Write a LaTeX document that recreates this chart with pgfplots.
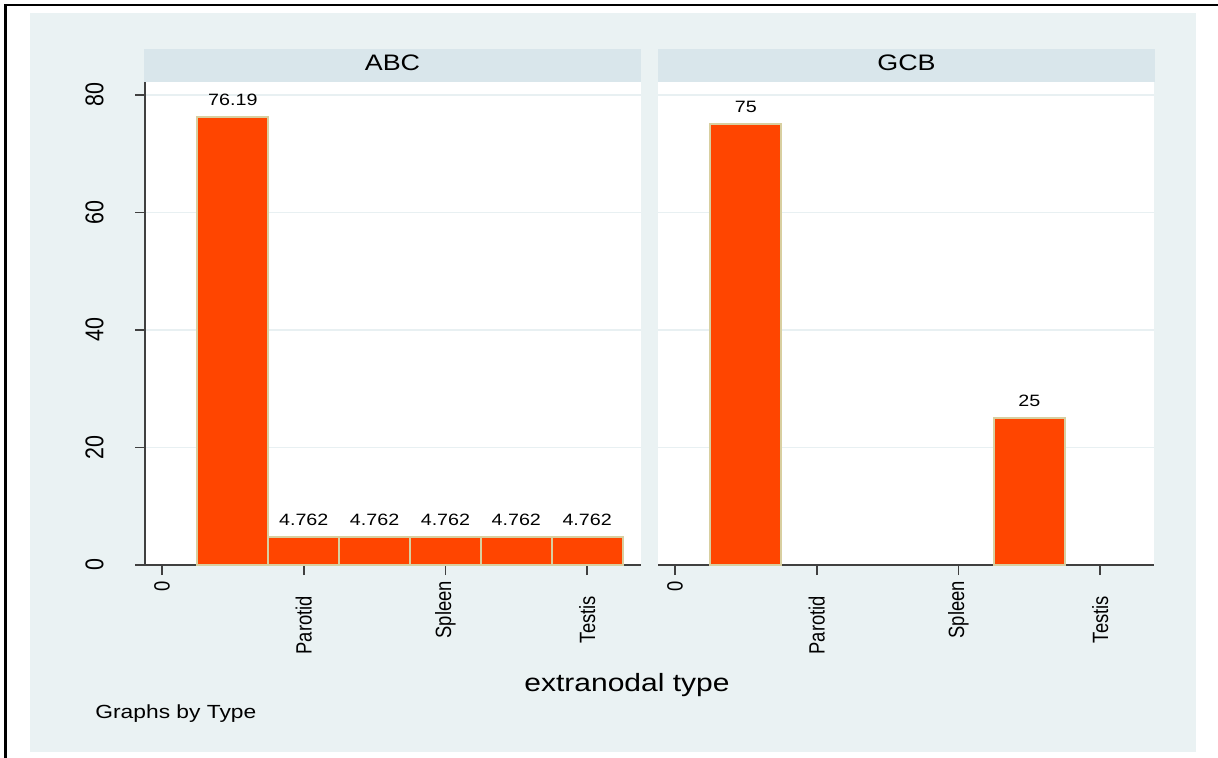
\documentclass[border=0pt]{standalone}
\usepackage{graphicx}
\usepackage{pgfplots}
\pgfplotsset{compat=1.18}
\usepackage{fontspec}
\setmainfont[FakeStretch=1.2]{Liberation Sans}
\newfontfamily\rotfont{Liberation Sans}
\definecolor{bgc}{RGB}{234,242,243}
\definecolor{stripc}{RGB}{217,230,235}
\definecolor{barc}{RGB}{255,69,0}
\definecolor{edgec}{RGB}{216,207,160}
\definecolor{gridc}{RGB}{232,240,242}
\definecolor{axc}{RGB}{64,64,64}
\newcommand{\rx}[1]{\scalebox{1}[1.2]{\rotfont\fontsize{9.2}{10}\selectfont #1}}
\newcommand{\ry}[1]{\scalebox{1}[1.2]{\rotfont\fontsize{10.7}{12}\selectfont #1}}

\pgfplotsset{
  panel/.style={
    scale only axis, width=248pt, height=241.65pt,
    xmin=-0.24, xmax=6.76, ymin=0, ymax=82.26,
    axis background/.style={fill=white},
    axis x line*=bottom, axis y line*=left,
    axis line style={axc, line width=0.85pt},
    every tick/.style={axc, line width=0.85pt},
    tick align=outside, major tick length=5pt,
    xtick={0,2,4,6},
    xticklabels={\rx{0},\rx{Parotid\hspace*{7.5pt}},\rx{Spleen},\rx{Testis\hspace*{7.5pt}}},
    xticklabel style={yshift=-2.8pt, rotate=90, anchor=east, inner sep=0pt},
    ytick={0,20,40,60,80},
    ymajorgrids, major grid style={gridc, line width=0.8pt},
    ybar, bar width=1, bar shift=0pt,
    nodes near coords, point meta=explicit symbolic,
    every node near coord/.append style={font=\fontsize{8.2}{9}\selectfont, text=black, inner sep=0pt, yshift=5.3pt},
  }
}

\begin{document}
\begin{tikzpicture}
\path[use as bounding box] (0pt,0pt) rectangle (609pt,-379pt);
\fill[bgc] (15pt,-6.5pt) rectangle (598pt,-376pt);
\draw[black,line width=1.2pt] (2.75pt,-379pt) -- (2.75pt,-2.65pt) -- (609pt,-2.65pt);
\fill[stripc] (72pt,-24.35pt) rectangle (320.5pt,-40.85pt);
\fill[stripc] (329pt,-24.35pt) rectangle (577.5pt,-40.85pt);
\node[font=\fontsize{11.2}{12}\selectfont, anchor=base, inner sep=0pt] at (196.25pt,-35.5pt) {ABC};
\node[font=\fontsize{11.2}{12}\selectfont, anchor=base, inner sep=0pt] at (453.25pt,-35.5pt) {GCB};

\begin{axis}[panel, at={(72.5pt,-282.5pt)}, anchor=south west,
  yticklabels={\ry{0},\ry{20},\ry{40},\ry{60},\ry{80}},
  yticklabel style={xshift=-15.5pt, rotate=90, anchor=south, inner sep=0pt},
]
\addplot[fill=barc, draw=edgec, line width=1pt] coordinates {
  (1,76.19) [76.19]
  (2,4.762) [4.762]
  (3,4.762) [4.762]
  (4,4.762) [4.762]
  (5,4.762) [4.762]
  (6,4.762) [4.762]
};
\end{axis}

\begin{axis}[panel, at={(329pt,-282.5pt)}, anchor=south west,
  yticklabels={}, ytick style={draw=none},
  separate axis lines, y axis line style={draw=none},
]
\addplot[fill=barc, draw=edgec, line width=1pt] coordinates {
  (1,75) [75]
  (5,25) [25]
};
\end{axis}

\node[font=\fontsize{12.5}{13}\selectfont, anchor=base, inner sep=0pt] at (313.5pt,-345.5pt) {extranodal type};
\node[font=\fontsize{9.5}{10}\selectfont, anchor=base west, inner sep=0pt] at (47.5pt,-359pt) {Graphs by Type};
\end{tikzpicture}
\end{document}
